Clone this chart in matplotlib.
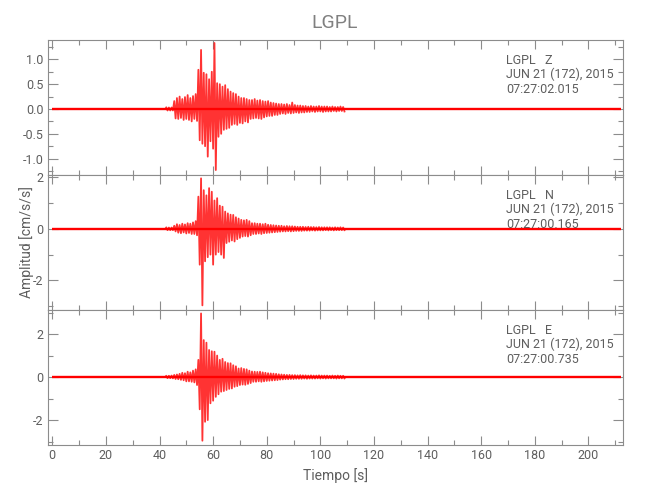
import numpy as np
import matplotlib.pyplot as plt
from matplotlib.ticker import MultipleLocator, FormatStrFormatter

# record length (s) and the strong-motion window, one peak pair per second
record = [0.0, 212.0]
t_start = 42.5
dt = 1.0

# upper / lower peaks of each second (cm/s/s)
z_hi = [0.03, 0.03, 0.03, 0.16, 0.22, 0.25, 0.20, 0.24, 0.28, 0.22,
        0.26, 0.30, 0.79, 1.19, 0.73, 0.70, 0.60, 0.75, 1.33, 0.52,
        0.50, 0.45, 0.48, 0.40, 0.35, 0.32, 0.30, 0.25, 0.22, 0.22,
        0.20, 0.18, 0.18, 0.20, 0.17, 0.18, 0.16, 0.15, 0.16, 0.13,
        0.12, 0.11, 0.10, 0.10, 0.09, 0.10, 0.08, 0.13, 0.08, 0.07,
        0.07, 0.06, 0.06, 0.05, 0.06, 0.05, 0.05, 0.06, 0.05, 0.05,
        0.05, 0.04, 0.05, 0.04, 0.04, 0.05, 0.04]
z_lo = [-0.03, -0.03, -0.03, -0.19, -0.20, -0.18, -0.22, -0.20, -0.22, -0.25,
        -0.20, -0.24, -0.63, -0.70, -0.75, -0.96, -0.65, -0.80, -1.23, -0.56,
        -0.50, -0.42, -0.40, -0.38, -0.32, -0.30, -0.32, -0.28, -0.29, -0.25,
        -0.27, -0.20, -0.19, -0.18, -0.19, -0.20, -0.17, -0.15, -0.14, -0.14,
        -0.12, -0.12, -0.10, -0.09, -0.10, -0.08, -0.09, -0.08, -0.07, -0.08,
        -0.07, -0.07, -0.06, -0.06, -0.05, -0.06, -0.05, -0.05, -0.06, -0.05,
        -0.05, -0.05, -0.04, -0.05, -0.04, -0.04, -0.05]

n_hi = [0.05, 0.05, 0.05, 0.12, 0.18, 0.15, 0.20, 0.17, 0.22, 0.20,
        0.25, 0.30, 1.25, 1.96, 1.50, 1.30, 1.58, 1.44, 1.10, 1.19,
        0.90, 0.86, 0.67, 0.60, 0.55, 0.54, 0.45, 0.40, 0.35, 0.33,
        0.35, 0.30, 0.22, 0.22, 0.20, 0.20, 0.18, 0.20, 0.16, 0.15,
        0.14, 0.13, 0.12, 0.12, 0.10, 0.11, 0.10, 0.10, 0.09, 0.08,
        0.08, 0.08, 0.07, 0.08, 0.07, 0.07, 0.06, 0.07, 0.06, 0.06,
        0.06, 0.06, 0.05, 0.06, 0.05, 0.06, 0.05]
n_lo = [-0.05, -0.05, -0.05, -0.10, -0.15, -0.17, -0.14, -0.18, -0.16, -0.20,
        -0.20, -0.25, -1.39, -2.97, -1.26, -1.10, -1.00, -1.39, -1.00, -0.90,
        -1.00, -1.13, -0.55, -0.50, -0.45, -0.49, -0.40, -0.35, -0.30, -0.28,
        -0.30, -0.25, -0.20, -0.20, -0.18, -0.20, -0.17, -0.16, -0.15, -0.14,
        -0.13, -0.12, -0.11, -0.10, -0.10, -0.09, -0.10, -0.09, -0.08, -0.08,
        -0.08, -0.07, -0.07, -0.07, -0.06, -0.07, -0.06, -0.06, -0.06, -0.05,
        -0.06, -0.05, -0.06, -0.05, -0.05, -0.05, -0.05]

e_hi = [0.05, 0.06, 0.07, 0.10, 0.12, 0.15, 0.20, 0.18, 0.25, 0.22,
        0.30, 0.36, 0.80, 2.96, 1.72, 1.60, 1.26, 1.20, 1.18, 1.00,
        0.80, 0.85, 0.70, 0.65, 0.64, 0.55, 0.50, 0.40, 0.42, 0.38,
        0.36, 0.30, 0.26, 0.25, 0.24, 0.25, 0.22, 0.20, 0.18, 0.17,
        0.16, 0.15, 0.13, 0.12, 0.11, 0.10, 0.10, 0.09, 0.09, 0.08,
        0.09, 0.08, 0.08, 0.07, 0.08, 0.07, 0.07, 0.08, 0.07, 0.07,
        0.07, 0.06, 0.07, 0.06, 0.07, 0.06, 0.06]
e_lo = [-0.05, -0.05, -0.06, -0.09, -0.10, -0.13, -0.15, -0.20, -0.20, -0.22,
        -0.25, -0.37, -1.50, -2.96, -2.08, -2.00, -1.22, -1.10, -0.92, -0.80,
        -0.68, -0.65, -0.60, -0.55, -0.53, -0.45, -0.42, -0.37, -0.35, -0.36,
        -0.32, -0.28, -0.22, -0.22, -0.20, -0.22, -0.20, -0.18, -0.17, -0.16,
        -0.15, -0.14, -0.12, -0.11, -0.10, -0.10, -0.09, -0.09, -0.08, -0.08,
        -0.08, -0.07, -0.08, -0.07, -0.07, -0.07, -0.06, -0.07, -0.06, -0.07,
        -0.06, -0.06, -0.06, -0.07, -0.06, -0.06, -0.06]

components = ['Z', 'N', 'E']
start_times = ['07:27:02.015', '07:27:00.165', '07:27:00.735']
date_str = 'JUN 21 (172), 2015'
station = 'LGPL'

ylims = [(-1.33, 1.39), (-3.15, 2.09), (-3.16, 3.12)]
ymajor = [0.5, 2, 2]
yminor = [0.25, 1, 1]
yfmt = ['%.1f', '%d', '%d']

GRAY = '#5e5e5e'
SPINE = '#8c8c8c'
plt.rcParams['font.family'] = ['Roboto', 'DejaVu Sans']

fig = plt.figure(figsize=(6.5, 5.0), dpi=100)
fig.patch.set_facecolor('white')

his = [z_hi, n_hi, e_hi]
los = [z_lo, n_lo, e_lo]
bottoms = [0.65, 0.38, 0.11]
axes = []
for k in range(3):
    ax = fig.add_axes([0.0734, bottoms[k], 0.8851, 0.27])
    axes.append(ax)
    hi = np.array(his[k])
    lo = np.array(los[k])
    t = t_start + dt * np.arange(len(hi))
    xs = np.column_stack([t, t + dt / 2]).ravel()
    ys = np.column_stack([hi, lo]).ravel()
    # quiet part of the trace
    ax.plot(record, [0, 0], color='red', lw=1.7, solid_capstyle='butt')
    ax.plot(xs, ys, color='red', lw=1.3, alpha=0.8)

    ax.set_xlim(-1.7, 212.9)
    ax.set_ylim(*ylims[k])
    ax.xaxis.set_major_locator(MultipleLocator(20))
    ax.xaxis.set_minor_locator(MultipleLocator(10))
    ax.yaxis.set_major_locator(MultipleLocator(ymajor[k]))
    ax.yaxis.set_minor_locator(MultipleLocator(yminor[k]))
    ax.yaxis.set_major_formatter(FormatStrFormatter(yfmt[k]))
    ax.tick_params(axis='both', which='both', direction='in', colors=SPINE,
                   labelcolor=GRAY, labelsize=9, top=True, right=True, width=0.8)
    ax.tick_params(axis='y', which='major', length=7.5, pad=3)
    ax.tick_params(axis='x', which='major', length=6.5, pad=3)
    ax.tick_params(axis='both', which='minor', length=3.6)
    for s in ax.spines.values():
        s.set_color(SPINE)
        s.set_linewidth(0.8)
    if k < 2:
        ax.tick_params(axis='x', labelbottom=False)

    ax.text(0.797, 0.847, station + '   ' + components[k], transform=ax.transAxes,
            color=GRAY, fontsize=9, va='center', ha='left')
    ax.text(0.797, 0.748, date_str, transform=ax.transAxes,
            color=GRAY, fontsize=9, va='center', ha='left')
    ax.text(0.797, 0.635, start_times[k], transform=ax.transAxes,
            color=GRAY, fontsize=9, va='center', ha='left')

fig.text(0.5155, 1 - 22.5 / 500, station, color='#808080', fontsize=14,
         ha='center', va='center')
axes[2].set_xlabel('Tiempo [s]', color=GRAY, fontsize=10, labelpad=4)
fig.text(27 / 650, 1 - 242.5 / 500, 'Amplitud [cm/s/s]', color=GRAY, fontsize=10,
         rotation=90, ha='center', va='center')

fig.savefig('out.png', dpi=100, facecolor='white')
